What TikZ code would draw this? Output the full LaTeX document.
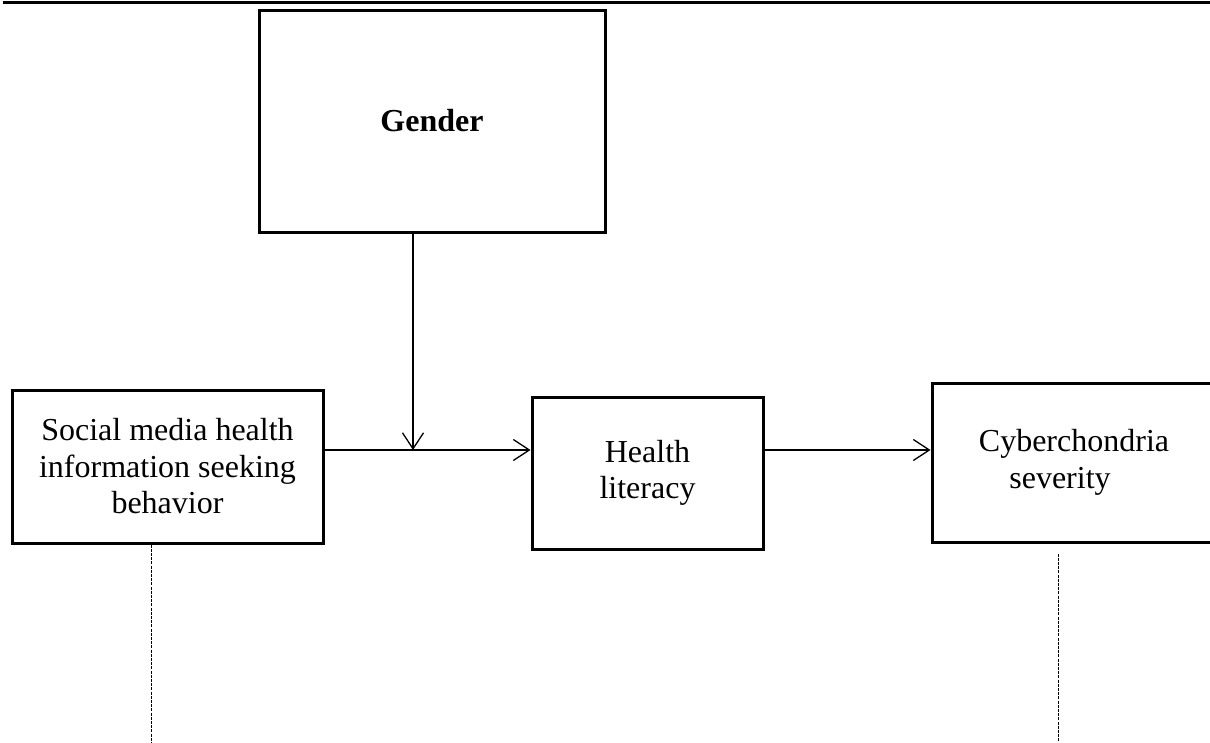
\documentclass[tikz,border=0pt]{standalone}
\usepackage{fontspec}
\setmainfont{Liberation Serif}
\usetikzlibrary{arrows.meta}
\begin{document}
\begin{tikzpicture}[x=1pt,y=-1pt,
  box/.style={draw,line width=3pt,inner sep=0pt,align=center,
    font=\fontsize{32}{36.5}\selectfont},
  conn/.style={line width=1.3pt,-{Straight Barb[length=16pt,width=21pt,line width=1.3pt]}},
  dots/.style={line width=1pt,dash pattern=on 3pt off 1.2pt},
  rule/.style={line width=2.4pt}]
\useasboundingbox (0,0) rectangle (1210,742);
\clip (0,0) rectangle (1210,742);
\coordinate (r1) at (3,2.5);
\coordinate (r2) at (1210,2.5);
\draw[rule] (r1) -- (r2);
\node[box,minimum width=346pt,minimum height=222pt] (gen) at (432,121) {\textbf{Gender}};
\node[box,minimum width=311pt,minimum height=153pt] (soc) at (167.5,466.5)
  {Social media health\\information seeking\\behavior};
\node[box,minimum width=231pt,minimum height=152pt] (hl) at (647.5,473)
  {Health\\literacy};
\node[box,minimum width=284pt,minimum height=159pt] (cyb) at (1074,462.5)
  {Cyberchondria\\severity\hspace*{28pt}};
\coordinate (m) at (413,450);
\coordinate (d1) at (151,742);
\coordinate (d2) at (1058,742);
\draw[conn] (m -| soc.east) -- (m -| hl.west);
\draw[conn] (m |- gen.south) -- (m);
\draw[conn] (m -| hl.east) -- (m -| cyb.west);
\draw[dots] (d1 |- soc.south) -- (d1);
\draw[dots] ([yshift=-10pt]d2 |- cyb.south) -- (d2);
\end{tikzpicture}
\end{document}
